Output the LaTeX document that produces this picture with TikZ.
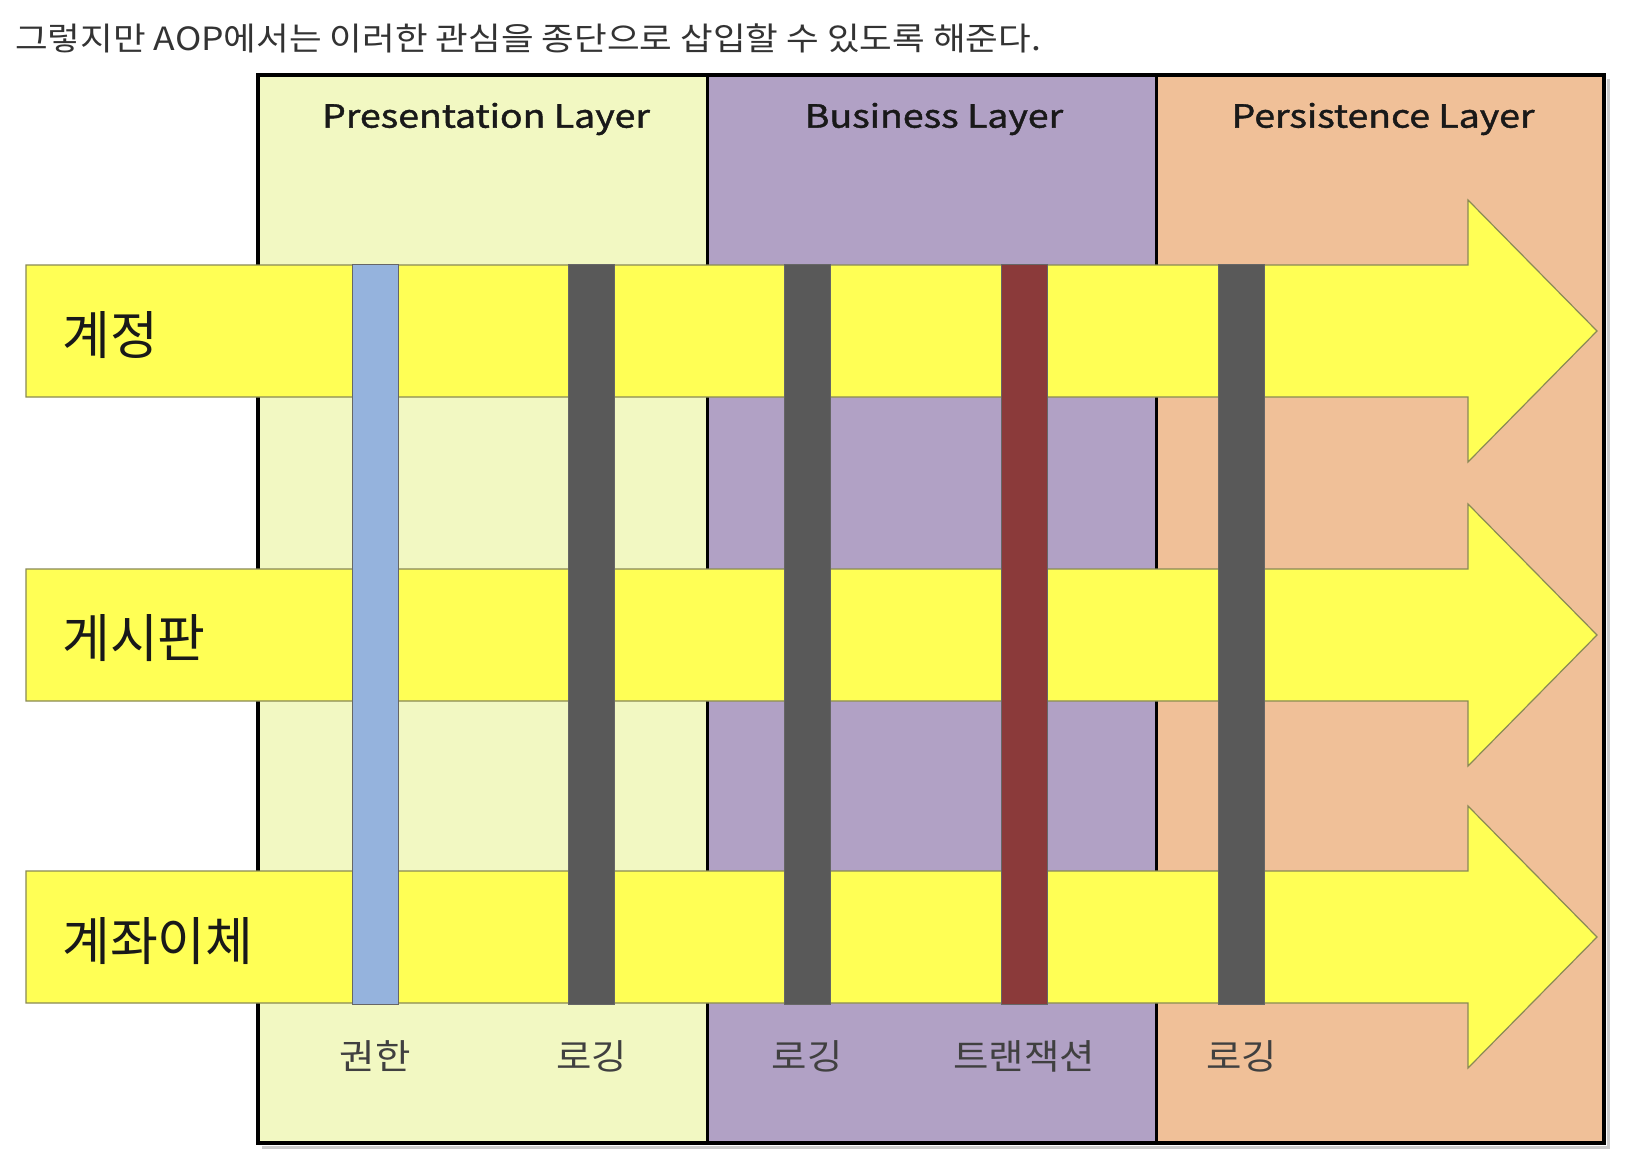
\documentclass[tikz,border=0pt]{standalone}
\usepackage{fontspec}
\setmainfont{Noto Sans CJK KR}
\newfontfamily\heavykr[FakeBold=1.2]{Noto Sans CJK KR}
\definecolor{presfill}{HTML}{F2F8C2}
\definecolor{busfill}{HTML}{B1A1C5}
\definecolor{persfill}{HTML}{F0C098}
\definecolor{flowyellow}{HTML}{FFFF55}
\definecolor{flowedge}{HTML}{8A8A55}
\definecolor{barblue}{HTML}{95B3DD}
\definecolor{bargray}{HTML}{595959}
\definecolor{barred}{HTML}{8B3A3A}
\begin{document}
\begin{tikzpicture}[x=1pt,y=-1pt,
  layertitle/.style={inner sep=0, font=\heavykr\fontsize{32}{32}\selectfont, text=black!90},
  rowlabel/.style={anchor=west, inner sep=0, font=\fontsize{52}{52}\selectfont, text=black!90},
  cutlabel/.style={inner sep=0, font=\fontsize{35}{35}\selectfont, text=black!75},
  flow/.style={fill=flowyellow, draw=flowedge, line width=1.2pt, line join=miter},
  vbar/.style={draw=black!60, line width=1pt, minimum width=46pt, minimum height=740pt, inner sep=0},
  divider/.style={line width=3pt, black}]
\useasboundingbox[fill=white] (0,0) rectangle (1634,1152);
% caption
\node[anchor=west, inner sep=0, font=\fontsize{32}{32}\selectfont, text=black!80] (cap) at (15,38) {\scalebox{1.11}[1]{그렇지만 AOP에서는 이러한 관심을 종단으로 삽입할 수 있도록 해준다.}};
% layers
\fill[presfill] (258,75) rectangle (707,1143);
\fill[busfill] (707,75) rectangle (1156,1143);
\fill[persfill] (1156,75) rectangle (1604,1143);
\draw[black!20, line width=3pt] (262,1147) -- (1608,1147) -- (1608,79);
\draw[line width=4pt, black] (258,75) rectangle (1604,1143);
\draw[divider] (707,75) -- (707,1143);
\draw[divider] (1156,75) -- (1156,1143);
\node[layertitle] (tp) at (486,119) {\scalebox{1.17}[1]{Presentation Layer}};
\node[layertitle] (tb) at (934,119) {\scalebox{1.17}[1]{Business Layer}};
\node[layertitle] (tr) at (1383,119) {\scalebox{1.17}[1]{Persistence Layer}};
% flows
\draw[flow] (26,265) -- (1468,265) -- (1468,200) -- (1597,331) -- (1468,462) -- (1468,397) -- (26,397) -- cycle;
\draw[flow] (26,569) -- (1468,569) -- (1468,504) -- (1597,635) -- (1468,766) -- (1468,701) -- (26,701) -- cycle;
\draw[flow] (26,871) -- (1468,871) -- (1468,806) -- (1597,937) -- (1468,1068) -- (1468,1003) -- (26,1003) -- cycle;
% crosscutting bars
\node[vbar, fill=barblue] (auth) at (375,634) {};
\node[vbar, fill=bargray] (log1) at (591.5,634) {};
\node[vbar, fill=bargray] (log2) at (807,634) {};
\node[vbar, fill=barred] (tx) at (1024,634) {};
\node[vbar, fill=bargray] (log3) at (1241.5,634) {};
% row labels
\node[rowlabel] (r1) at (62,335) {계정};
\node[rowlabel] (r2) at (62,638) {게시판};
\node[rowlabel] (r3) at (62,941) {계좌이체};
% cut labels
\node[cutlabel] (lauth) at (auth.center |- 0,1056) {\scalebox{1.1}[1]{권한}};
\node[cutlabel] (llog1) at (log1.center |- 0,1056) {\scalebox{1.1}[1]{로깅}};
\node[cutlabel] (llog2) at (log2.center |- 0,1056) {\scalebox{1.1}[1]{로깅}};
\node[cutlabel] (ltx) at (tx.center |- 0,1056) {\scalebox{1.1}[1]{트랜잭션}};
\node[cutlabel] (llog3) at (log3.center |- 0,1056) {\scalebox{1.1}[1]{로깅}};
\end{tikzpicture}
\end{document}
